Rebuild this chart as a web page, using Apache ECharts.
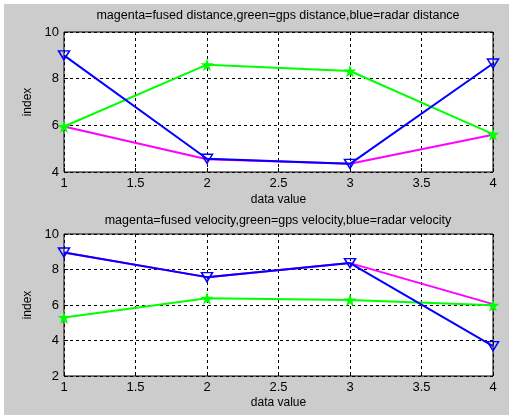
<!DOCTYPE html>
<html>
<head>
<meta charset="utf-8">
<script src="https://cdn.jsdelivr.net/npm/echarts@6/dist/echarts.min.js"></script>
<style>
  html, body { margin: 0; padding: 0; background: #fff; }
  #main { width: 509px; height: 415px; }
</style>
</head>
<body>
<div id="main"></div>
<script>
// x positions (shared by both plots)
const xValues = [1, 2, 3, 4];

// top plot: distance
const distFused = [5.95, 4.55, 4.35, 5.6];
const distGps = [5.95, 8.6, 8.33, 5.62];
const distRadar = [9.0, 4.57, 4.35, 8.65];

// bottom plot: velocity
const velFused = [8.96, 7.57, 8.36, 6.05];
const velGps = [5.3, 6.38, 6.28, 5.98];
const velRadar = [8.96, 7.57, 8.36, 3.68];

const titles = [
  'magenta=fused distance,green=gps distance,blue=radar distance',
  'magenta=fused velocity,green=gps velocity,blue=radar velocity'
];

const FONT = 'Liberation Sans';
const starPath = 'path://M50,0 L61,35 L98,35 L68,57 L79,91 L50,70 L21,91 L32,57 L2,35 L39,35 Z';

const pairs = arr => arr.map((v, i) => [xValues[i], v]);

const dash = {color: '#000', width: 1, type: [3, 3]};

const makeX = (idx, gap) => ({
  type: 'value', gridIndex: idx, min: 1, max: 4, interval: 0.5,
  name: 'data value', nameLocation: 'middle', nameGap: gap,
  nameTextStyle: {fontFamily: FONT, fontSize: 12, color: '#000'},
  axisLine: {show: false},
  axisTick: {show: true, inside: true, length: 4, lineStyle: {color: '#000'}},
  axisLabel: {fontFamily: FONT, fontSize: 13, color: '#000', margin: 5,
    formatter: v => String(v)},
  splitLine: {show: true, lineStyle: dash}
});

const makeY = (idx, min) => ({
  type: 'value', gridIndex: idx, min: min, max: 10, interval: 2,
  name: 'index', nameLocation: 'middle', nameGap: 26,
  nameTextStyle: {fontFamily: FONT, fontSize: 12, color: '#000'},
  axisLine: {show: false},
  axisTick: {show: true, inside: true, length: 4, lineStyle: {color: '#000'}},
  axisLabel: {fontFamily: FONT, fontSize: 13, color: '#000', margin: 5},
  splitLine: {show: true, lineStyle: dash}
});

const lineOf = (data, color, idx, kind) => {
  let s = {
    type: 'line', xAxisIndex: idx, yAxisIndex: idx, data: pairs(data),
    lineStyle: {color: color, width: 2},
    itemStyle: {color: color},
    symbol: 'none',
    z: 2
  };
  if (kind === 'star') {
    s.symbol = starPath;
    s.symbolSize = 13;
    s.z = 3;
  } else if (kind === 'tri') {
    s.symbol = 'triangle';
    s.symbolRotate = 180;
    s.symbolSize = [11, 9];
    s.itemStyle = {color: 'rgba(0,0,0,0)', borderColor: color, borderWidth: 1.5};
    s.z = 4;
  }
  return s;
};

const myChart = echarts.init(document.getElementById('main'));

const option = {
  animation: false,
  backgroundColor: '#cccccc',
  title: titles.map((t, i) => ({
    text: t, left: 278, top: i === 0 ? 9 : 214, padding: 0, textAlign: 'center',
    textStyle: {fontFamily: FONT, fontSize: 12.5, fontWeight: 'normal', color: '#000'}
  })),
  grid: [
    {left: 64, right: 16, top: 32, height: 140, show: true, backgroundColor: '#fff', borderColor: '#000', borderWidth: 1},
    {left: 64, right: 16, top: 234, height: 142, show: true, backgroundColor: '#fff', borderColor: '#000', borderWidth: 1}
  ],
  xAxis: [makeX(0, 22), makeX(1, 21)],
  yAxis: [makeY(0, 4), makeY(1, 2)],
  graphic: [
    {type: 'rect', left: 0, top: 0, shape: {width: 509, height: 4}, style: {fill: '#fff'}, silent: true},
    {type: 'rect', left: 0, top: 0, shape: {width: 4, height: 415}, style: {fill: '#fff'}, silent: true}
  ],
  series: [
    lineOf(distFused, '#ff00ff', 0, 'none'),
    lineOf(distGps, '#00ff00', 0, 'star'),
    lineOf(distRadar, '#0000ff', 0, 'tri'),
    lineOf(velFused, '#ff00ff', 1, 'none'),
    lineOf(velGps, '#00ff00', 1, 'star'),
    lineOf(velRadar, '#0000ff', 1, 'tri')
  ]
};

myChart.setOption(option);
</script>
</body>
</html>
